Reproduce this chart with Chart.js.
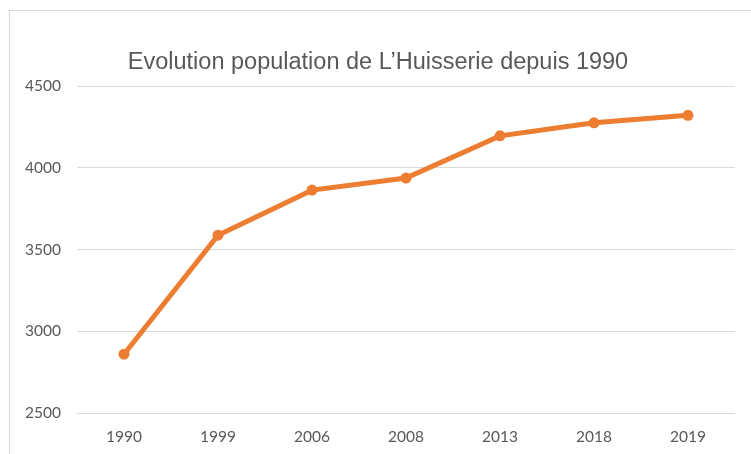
<!DOCTYPE html>
<html>
<head>
<meta charset="utf-8">
<script src="https://cdn.jsdelivr.net/npm/chart.js@4/dist/chart.umd.min.js"></script>
<style>
  body { margin: 0; background: #fff; }
  canvas { display: block; }
</style>
</head>
<body>
<canvas id="pop" width="751" height="454"></canvas>
<script>
// Population de L'Huisserie
const years = ["1990", "1999", "2006", "2008", "2013", "2018", "2019"];
const population = [2860, 3588, 3864, 3938, 4196, 4276, 4322];
const yTicks = [2500, 3000, 3500, 4000, 4500];

// thin frame around the chart (top and left edges show in the picture)
const frame = {
  id: "frame",
  beforeDraw(chart) {
    const ctx = chart.ctx;
    ctx.save();
    ctx.strokeStyle = "#d9d9d9";
    ctx.lineWidth = 1;
    ctx.beginPath();
    ctx.moveTo(8, 10.5);
    ctx.lineTo(chart.width, 10.5);
    ctx.moveTo(9.5, 10);
    ctx.lineTo(9.5, chart.height);
    ctx.stroke();
    ctx.restore();
  }
};

const tickFont = { family: "Lato, 'Open Sans', sans-serif", size: 15.5 };

new Chart("pop", {
  type: "line",
  data: {
    labels: years,
    datasets: [{
      label: "Population",
      data: population,
      borderColor: "#ED7D31",
      backgroundColor: "#ED7D31",
      borderWidth: 5,
      pointRadius: 5.5,
      pointHoverRadius: 5.5,
      pointBorderWidth: 0,
      tension: 0,
      fill: false
    }]
  },
  options: {
    responsive: false,
    animation: false,
    layout: { padding: { left: 21, right: 16, top: 0, bottom: 0 } },
    plugins: {
      legend: { display: false },
      tooltip: { enabled: false },
      title: {
        display: true,
        text: "Evolution population de L\u2019Huisserie depuis 1990",
        color: "#595959",
        font: { family: "'Liberation Sans', Arial, sans-serif", size: 23.5, weight: "normal" },
        padding: { top: 48, bottom: 10 }
      }
    },
    scales: {
      x: {
        offset: true,
        grid: { display: false, drawTicks: false },
        border: { display: false },
        ticks: {
          color: "#595959",
          font: tickFont,
          padding: 15,
          maxRotation: 0
        },
        afterFit(scale) { scale.height = 41; }
      },
      y: {
        min: 2500,
        max: 4500,
        afterBuildTicks(scale) { scale.ticks = yTicks.map(v => ({ value: v })); },
        grid: { color: "#d9d9d9", lineWidth: 1, drawTicks: false },
        border: { display: false },
        ticks: {
          color: "#595959",
          font: tickFont,
          padding: 16,
          callback: v => String(v)
        },
        afterFit(scale) { scale.width = 56; }
      }
    }
  },
  plugins: [frame]
});
</script>
</body>
</html>
